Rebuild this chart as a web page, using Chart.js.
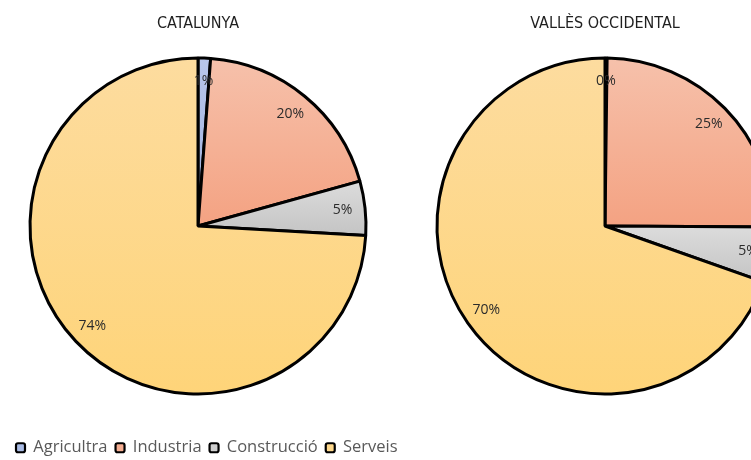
<!DOCTYPE html>
<html><head><meta charset="utf-8">
<script src="https://cdn.jsdelivr.net/npm/chart.js@4.4.1/dist/chart.umd.min.js"></script>
<style>
html,body{margin:0;padding:0;background:#fff}
body{width:751px;height:460px;overflow:hidden;position:relative}
#w1{position:absolute;left:8px;top:0;width:460px;height:460px;overflow:hidden;z-index:2}
#w2{position:absolute;left:400px;top:0;width:351px;height:460px;overflow:hidden;z-index:1}
canvas{display:block}
</style></head><body>
<div id="w1"><canvas id="c1" width="460" height="466"></canvas></div>
<div id="w2"><canvas id="c2" width="410" height="466"></canvas></div>
<script>
const categories = ['Agricultra', 'Industria', 'Construcció', 'Serveis'];
const catalunyaValues = [1.2, 19.5, 5.2, 74.1];
const vallesValues = [0.2, 24.9, 5.3, 69.6];
const chartTitles = ['CATALUNYA', 'VALLÈS OCCIDENTAL'];

const topColors = ['#b9c6ea', '#f6c1ab', '#dcdcdc', '#fddc9f'];
const bottomColors = ['#9cafde', '#f4a282', '#c4c4c4', '#fed479'];
const solidColors = ['#a9bbe4', '#f5ae92', '#cfcfcf', '#fed88c'];
const RADIUS = 168;
const FONT = '"Open Sans", Lato, sans-serif';
const TITLE_FONT = '"Liberation Sans Narrow", "DejaVu Sans Condensed", "Open Sans", sans-serif';

function sliceGradient(ctx) {
  const chart = ctx.chart;
  const area = chart.chartArea;
  const i = ctx.dataIndex;
  if (!area || i === undefined) return solidColors[i] || '#ccc';
  const data = ctx.dataset.data;
  const total = data.reduce((a, b) => a + b, 0);
  let cum = 0;
  for (let k = 0; k < i; k++) cum += data[k];
  const a0 = -Math.PI / 2 + 2 * Math.PI * cum / total;
  const a1 = -Math.PI / 2 + 2 * Math.PI * (cum + data[i]) / total;
  const cy = (area.top + area.bottom) / 2;
  const ys = [0, Math.sin(a0), Math.sin(a1)];
  [Math.PI / 2, -Math.PI / 2, 3 * Math.PI / 2].forEach(t => { if (t > a0 && t < a1) ys.push(Math.sin(t)); });
  const y0 = cy + RADIUS * Math.min(...ys);
  const y1 = cy + RADIUS * Math.max(...ys);
  const g = chart.ctx.createLinearGradient(0, y0, 0, y1 + 0.01);
  g.addColorStop(0, topColors[i]);
  g.addColorStop(1, bottomColors[i]);
  return g;
}

const pctLabels = {
  id: 'pctLabels',
  afterDatasetsDraw(chart) {
    const meta = chart.getDatasetMeta(0);
    const data = chart.data.datasets[0].data;
    const total = data.reduce((a, b) => a + b, 0);
    const c = chart.ctx;
    c.save();
    c.font = '14px ' + FONT;
    c.fillStyle = '#2b2b2b';
    c.textAlign = 'center';
    c.textBaseline = 'middle';
    meta.data.forEach((el, i) => {
      const p = el.getProps(['x', 'y', 'startAngle', 'endAngle', 'outerRadius'], true);
      const mid = (p.startAngle + p.endAngle) / 2;
      const r = p.outerRadius * 0.865;
      c.fillText(Math.round(data[i] / total * 100) + '%', p.x + Math.cos(mid) * r, p.y + Math.sin(mid) * r);
    });
    c.restore();
  }
};

// invisible layout spacers (inner boxes) so the pie sits where the reference has it
function spacer(position, size) {
  return {
    position, weight: 0, fullSize: false, options: {},
    left: 0, top: 0, right: 0, bottom: 0, width: 0, height: 0,
    isHorizontal() { return position === 'top' || position === 'bottom'; },
    update(maxWidth, maxHeight) {
      if (this.isHorizontal()) { this.width = maxWidth; this.height = size; }
      else { this.width = size; this.height = maxHeight; }
    },
    draw() {}
  };
}
function spacerPlugin(list) {
  return { id: 'spacers', beforeInit(chart) { list.forEach(s => Chart.layouts.addBox(chart, spacer(s[0], s[1]))); } };
}

function makeOptions(title, showLegend, pad) {
  return {
    responsive: false,
    animation: false,
    radius: RADIUS,
    layout: { padding: pad },
    plugins: {
      title: {
        display: true, text: title, color: '#1f1f1f', fullSize: false,
        font: { family: TITLE_FONT, size: 16, weight: 'normal', lineHeight: 1.2 },
        padding: { top: 14, bottom: 0 }
      },
      legend: {
        display: showLegend, position: 'bottom', align: 'start',
        labels: {
          color: '#595959', font: { family: FONT, size: 16.5 },
          boxWidth: 9, boxHeight: 9, padding: 8, useBorderRadius: true, borderRadius: 2,
          generateLabels(chart) {
            return categories.map((c, i) => ({
              text: c, fillStyle: solidColors[i], strokeStyle: '#000', lineWidth: 2.2,
              borderRadius: 2, fontColor: '#595959', hidden: false, index: i
            }));
          }
        }
      },
      tooltip: { enabled: false }
    }
  };
}

function makeData(values) {
  return {
    labels: categories,
    datasets: [{ data: values, backgroundColor: sliceGradient, borderColor: '#000', borderWidth: 3, borderAlign: 'center' }]
  };
}

const chart1 = new Chart(document.getElementById('c1'), {
  type: 'pie', data: makeData(catalunyaValues),
  options: makeOptions(chartTitles[0], true, 0),
  plugins: [pctLabels, spacerPlugin([['right', 80], ['bottom', 12.7]])]
});
const padB = 466 - chart1.chartArea.bottom;
const chart2 = new Chart(document.getElementById('c2'), {
  type: 'pie', data: makeData(vallesValues),
  options: makeOptions(chartTitles[1], false, { left: 0, right: 0, top: 0, bottom: padB }),
  plugins: [pctLabels]
});
</script>
</body></html>
